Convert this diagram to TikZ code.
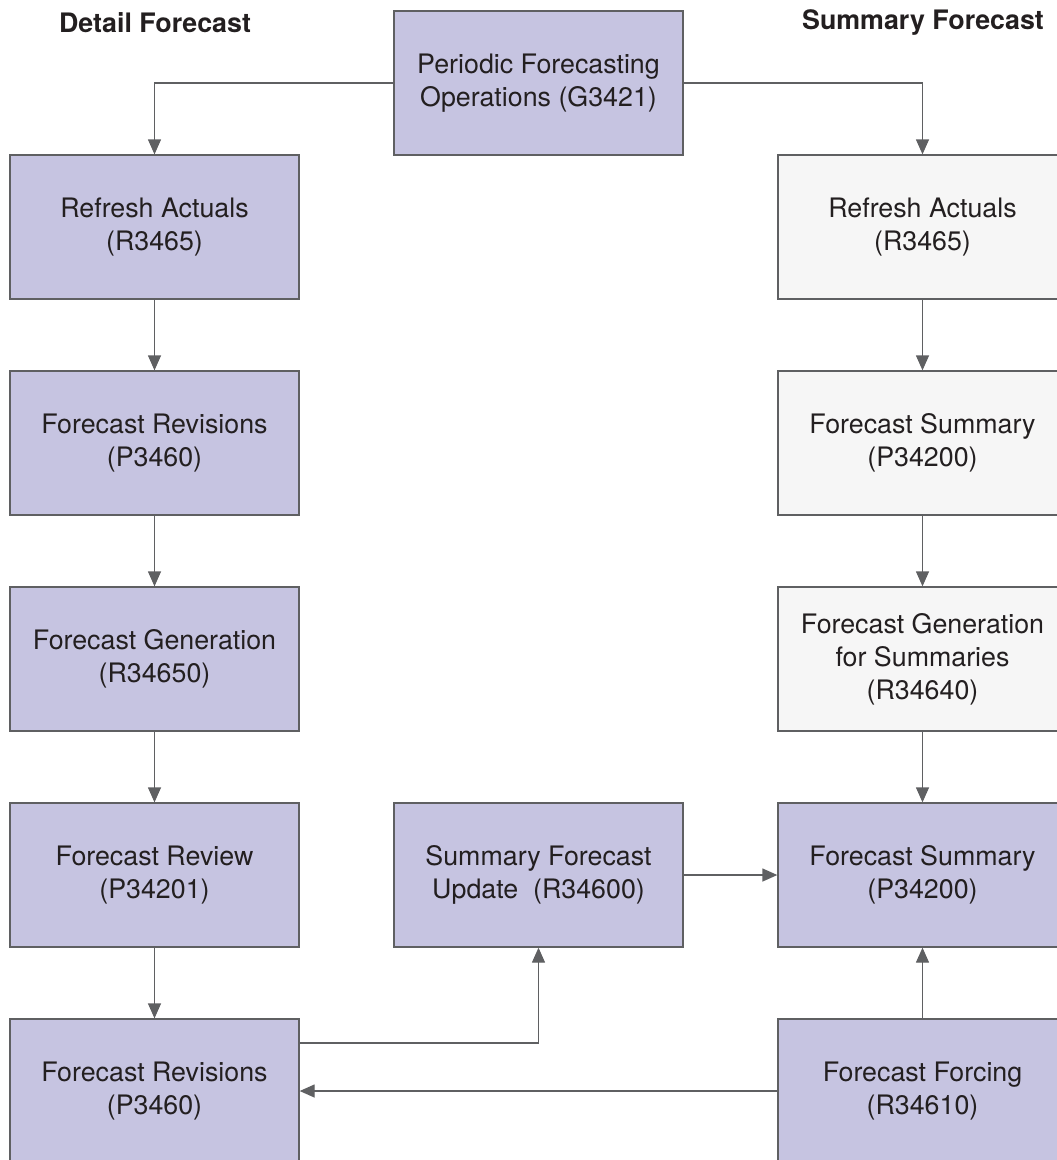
\documentclass[tikz,border=0pt]{standalone}
\usepackage{fontspec}
\setmainfont{TeX Gyre Heros}
\usetikzlibrary{arrows.meta}
\definecolor{boxfill}{HTML}{C6C4E1}
\definecolor{greyfill}{HTML}{F6F6F6}
\definecolor{edge}{HTML}{5F6062}
\definecolor{txt}{HTML}{231F20}
\tikzset{
  procbox/.style={draw=edge, line width=1.3pt, fill=boxfill, minimum width=289pt, minimum height=144pt,
    align=center, text=txt, font=\fontsize{26.8}{33}\selectfont, inner sep=0pt},
  greybox/.style={procbox, fill=greyfill},
  conn/.style={draw=edge, line width=1.3pt, -{Triangle[length=15pt,width=13pt]}},
  title/.style={font=\fontsize{26.8}{30}\selectfont\bfseries, text=txt}
}
\begin{document}
\begin{tikzpicture}[x=1pt,y=-1pt]
\useasboundingbox (0,0) rectangle (1057,1160);
\clip (0,0) rectangle (1057,1160);
\node[title] (t1) at (155,23) {Detail Forecast};
\node[title] (t2) at (923,23) {Summary Forecast};

\node[procbox] (top) at (538.5,83) {Periodic Forecasting\\Operations (G3421)};

\node[procbox] (l1) at (154.5,227) {Refresh Actuals\\(R3465)};
\node[procbox] (l2) at (154.5,443) {Forecast Revisions\\(P3460)};
\node[procbox] (l3) at (154.5,659) {Forecast Generation\\(R34650)};
\node[procbox] (l4) at (154.5,875) {Forecast Review\\(P34201)};
\node[procbox] (l5) at (154.5,1091) {Forecast Revisions\\(P3460)};

\node[procbox] (m4) at (538.5,875) {Summary Forecast\\Update~~(R34600)};

\node[greybox] (r1) at (922.5,227) {Refresh Actuals\\(R3465)};
\node[greybox] (r2) at (922.5,443) {Forecast Summary\\(P34200)};
\node[greybox] (r3) at (922.5,659) {Forecast Generation\\for Summaries\\(R34640)};
\node[procbox] (r4) at (922.5,875) {Forecast Summary\\(P34200)};
\node[procbox] (r5) at (922.5,1091) {Forecast Forcing\\(R34610)};

\draw[conn] (top.west) -| (l1.north);
\draw[conn] (top.east) -| (r1.north);
\draw[conn] (l1) -- (l2);
\draw[conn] (l2) -- (l3);
\draw[conn] (l3) -- (l4);
\draw[conn] (l4) -- (l5);
\draw[conn] (r1) -- (r2);
\draw[conn] (r2) -- (r3);
\draw[conn] (r3) -- (r4);
\draw[conn] (r5) -- (r4);
\draw[conn] (m4) -- (r4);
\draw[conn] (l5.east |- 0,1043) -| (m4.south);
\draw[conn] (r5.west) -- (l5.east);
\end{tikzpicture}
\end{document}
